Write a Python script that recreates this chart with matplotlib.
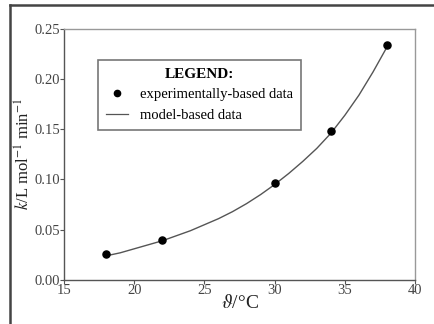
import matplotlib
matplotlib.use("Agg")
import matplotlib.pyplot as plt
from matplotlib.lines import Line2D

plt.rcParams['font.family'] = ['Liberation Serif', 'DejaVu Serif']
plt.rcParams['mathtext.fontset'] = 'stix'

# Messwerte (experimentell)
temp_exp = [18, 22, 30, 34, 38]
k_exp = [0.026, 0.040, 0.097, 0.148, 0.234]

# Modellkurve (alle 1 °C)
temp_mod = [18, 19, 20, 21, 22, 23, 24, 25, 26, 27, 28,
            29, 30, 31, 32, 33, 34, 35, 36, 37, 38]
k_mod = [0.024, 0.027, 0.031, 0.035, 0.039, 0.044, 0.049, 0.055, 0.061, 0.068, 0.076,
         0.085, 0.095, 0.106, 0.118, 0.131, 0.146, 0.164, 0.184, 0.207, 0.232]

xticks = [15, 20, 25, 30, 35, 40]
yticks = [0.00, 0.05, 0.10, 0.15, 0.20, 0.25]

fig = plt.figure(figsize=(4.34, 3.24), dpi=100)
ax = fig.add_axes([0.1475, 0.136, 0.809, 0.775])

ax.plot(temp_mod, k_mod, color='#555555', lw=1.0, zorder=2)
ax.scatter(temp_exp, k_exp, s=26, color='black', zorder=3)

ax.set_xlim(15, 40)
ax.set_ylim(0, 0.25)
ax.set_xticks(xticks)
ax.set_yticks(yticks)
ax.set_yticklabels([f'{v:.2f}' for v in yticks])

for side in ['top', 'right']:
    ax.spines[side].set_color('#999999')
for side in ['left', 'bottom']:
    ax.spines[side].set_color('#555555')
for s in ax.spines.values():
    s.set_linewidth(1.0)
ax.tick_params(direction='out', length=3, width=0.8, colors='#555555',
               labelsize=10.5, labelcolor='#444444', pad=0)

ax.set_xlabel(r'$\vartheta$/°C', fontsize=14, labelpad=-2, color='#222222')
ax.set_ylabel(r'$k$/L mol$^{-1}$ min$^{-1}$', fontsize=12, labelpad=0, color='#222222')

# Legende mit Titel
handles = [Line2D([], [], marker='o', ls='none', color='black', markersize=4.5),
           Line2D([], [], color='#555555', lw=0.9)]
leg = ax.legend(handles, ['experimentally-based data', 'model-based data'],
                title='LEGEND:', loc='upper left', bbox_to_anchor=(0.097, 0.877),
                fontsize=10.5, title_fontproperties={'weight': 'bold', 'size': 11},
                frameon=True, fancybox=False, edgecolor='#555555',
                handlelength=1.5, handletextpad=0.8, borderpad=0.55,
                labelspacing=0.5, borderaxespad=0)
leg.get_frame().set_linewidth(1.2)

# Rahmen um das Bild (oben und links)
fig.add_artist(Line2D([10 / 434, 1.0], [1 - 5 / 324, 1 - 5 / 324],
                      transform=fig.transFigure, color='#444444', lw=1.8))
fig.add_artist(Line2D([10 / 434, 10 / 434], [0, 1 - 5 / 324],
                      transform=fig.transFigure, color='#444444', lw=1.8))

fig.savefig('out.png', dpi=100)
